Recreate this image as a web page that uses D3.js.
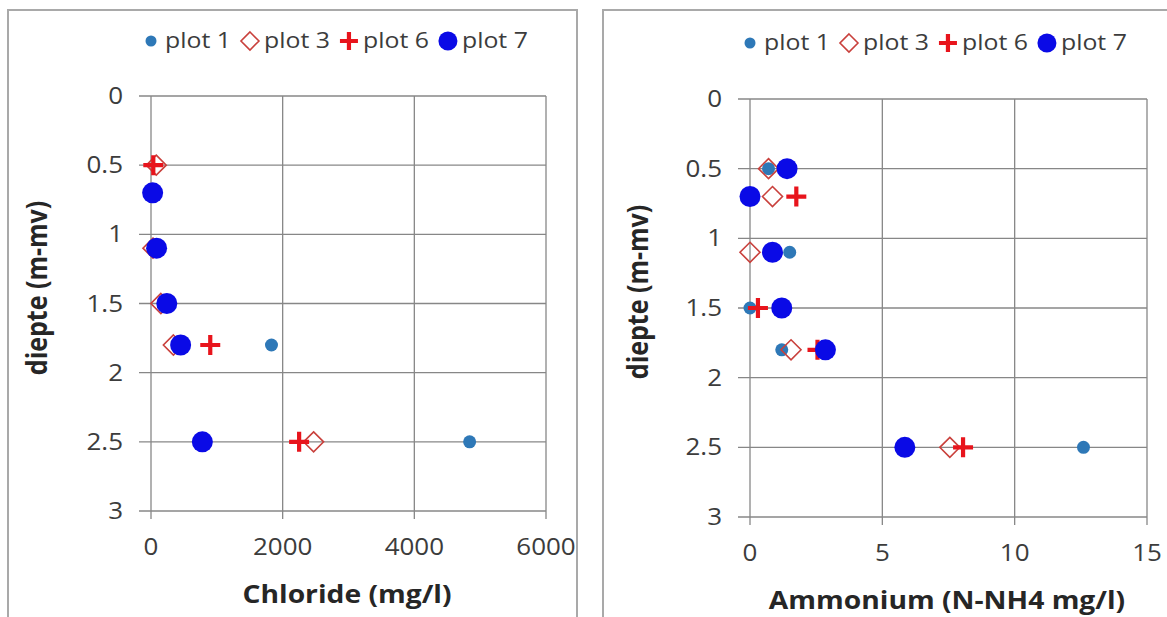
<!DOCTYPE html>
<html><head><meta charset="utf-8">
<script src="https://cdn.jsdelivr.net/npm/d3@7"></script>
<style>
html,body{margin:0;padding:0;background:#fff;}
svg{display:block;font-family:"Open Sans",Lato,sans-serif;}
</style></head>
<body>
<svg id="chart" width="1167" height="617"></svg>
<script>
// ---- data ----
const depths = [0.5, 0.7, 1.1, 1.5, 1.8, 2.5];
const seriesNames = ["plot 1", "plot 3", "plot 6", "plot 7"];
const chloridePlot1 = [null, null, null, null, 1830, 4840];
const chloridePlot3 = [80, null, 30, 150, 340, 2470];
const chloridePlot6 = [35, null, null, null, 900, 2250];
const chloridePlot7 = [null, 25, 85, 240, 450, 780];
const ammoniumPlot1 = [0.7, null, 1.5, 0.0, 1.2, 12.6];
const ammoniumPlot3 = [0.7, 0.85, 0.0, null, 1.55, 7.55];
const ammoniumPlot6 = [null, 1.75, null, 0.3, 2.55, 8.05];
const ammoniumPlot7 = [1.4, 0.0, 0.85, 1.2, 2.85, 5.85];
const depthTicks = [0, 0.5, 1, 1.5, 2, 2.5, 3];
const chlorideTicks = [0, 2000, 4000, 6000];
const ammoniumTicks = [0, 5, 10, 15];

const SX = 1.13; // horizontal text stretch seen in the reference
const svg = d3.select("#chart");
const styles = {
  "plot 1": {type: "dot", color: "#2e78b7", r: 6.5, lr: 5.5},
  "plot 3": {type: "diamond", color: "#c9403c", r: 10, lr: 9},
  "plot 6": {type: "plus", color: "#e8141c", r: 10, lr: 9},
  "plot 7": {type: "dot", color: "#0a0ae6", r: 10.5, lr: 9.5}
};

function drawMarker(g, name, x, y, legend) {
  const s = styles[name];
  const r = legend ? s.lr : s.r;
  if (s.type === "dot") {
    g.append("circle").attr("cx", x).attr("cy", y).attr("r", r).attr("fill", s.color);
  } else if (s.type === "diamond") {
    g.append("path").attr("d", `M${x},${y - r}L${x + r},${y}L${x},${y + r}L${x - r},${y}Z`)
      .attr("fill", "none").attr("stroke", s.color).attr("stroke-width", 1.6);
  } else {
    g.append("path").attr("d", `M${x - r},${y}H${x + r}M${x},${y - r}V${y + r}`)
      .attr("stroke", s.color).attr("stroke-width", 4.2).attr("fill", "none");
  }
}

function stretchedText(g, x, y, extra) {
  return g.append("text").attr("transform", `translate(${x},${y}) scale(${SX},1)${extra || ""}`);
}

function panel(cfg) {
  const g = svg.append("g");
  g.append("rect").attr("x", cfg.box[0]).attr("y", cfg.box[1]).attr("width", cfg.box[2]).attr("height", cfg.box[3])
    .attr("fill", "#fff").attr("stroke", "#a9a9a9").attr("stroke-width", 2);
  const x = d3.scaleLinear().domain(cfg.xDomain).range([cfg.left, cfg.right]);
  const y = d3.scaleLinear().domain([0, 3]).range([cfg.top, cfg.bottom]);

  // gridlines
  g.append("g").selectAll("line").data(depthTicks).join("line")
    .attr("x1", cfg.left - 12).attr("x2", cfg.right).attr("y1", d => y(d)).attr("y2", d => y(d))
    .attr("stroke", "#878787").attr("stroke-width", 1.3);
  g.append("g").selectAll("line").data(cfg.xTicks).join("line")
    .attr("y1", cfg.top).attr("y2", cfg.bottom + 8).attr("x1", d => x(d)).attr("x2", d => x(d))
    .attr("stroke", "#878787").attr("stroke-width", 1.3);

  // tick labels
  depthTicks.forEach(d => {
    stretchedText(g, cfg.left - 28, y(d)).attr("dy", "0.35em")
      .attr("text-anchor", "end").attr("font-size", 23).attr("fill", "#3c3c3c").text(d);
  });
  cfg.xTicks.forEach(d => {
    stretchedText(g, x(d), cfg.bottom + 36).attr("dy", "0.35em")
      .attr("text-anchor", "middle").attr("font-size", 23).attr("fill", "#3c3c3c").text(d);
  });

  // titles
  stretchedText(g, cfg.yTitleX, cfg.yTitleY, " rotate(-90)")
    .attr("text-anchor", "middle").attr("dy", "0.35em").attr("font-size", 25).attr("font-weight", "bold")
    .attr("fill", "#262626").text("diepte (m-mv)");
  stretchedText(g, cfg.xTitleX, cfg.xTitleY).attr("dy", "0.35em")
    .attr("text-anchor", "middle").attr("font-size", 25).attr("font-weight", "bold")
    .attr("fill", "#262626").text(cfg.xTitle);

  // points
  const pg = g.append("g");
  seriesNames.forEach((name, i) => {
    cfg.values[i].forEach((v, j) => {
      if (v === null) return;
      drawMarker(pg, name, x(v), y(depths[j]), false);
    });
  });

  // legend
  const lg = g.append("g");
  let cx = cfg.legendX;
  seriesNames.forEach(name => {
    drawMarker(lg, name, cx, cfg.legendY, true);
    const t = stretchedText(lg, cx + 14, cfg.legendY).attr("dy", "0.32em")
      .attr("font-size", 22).attr("fill", "#3c3c3c").text(name);
    cx = cx + 14 + t.node().getComputedTextLength() * SX + 19;
  });
}

panel({
  box: [8, 10, 569, 640], left: 151, right: 546, top: 96, bottom: 511,
  xDomain: [0, 6000], xTicks: chlorideTicks,
  values: [chloridePlot1, chloridePlot3, chloridePlot6, chloridePlot7],
  yTitleX: 37, yTitleY: 288, xTitleX: 347, xTitleY: 594, xTitle: "Chloride (mg/l)",
  legendX: 151, legendY: 41
});
panel({
  box: [603, 10, 600, 640], left: 750, right: 1147, top: 99, bottom: 517,
  xDomain: [0, 15], xTicks: ammoniumTicks,
  values: [ammoniumPlot1, ammoniumPlot3, ammoniumPlot6, ammoniumPlot7],
  yTitleX: 638, yTitleY: 292, xTitleX: 947, xTitleY: 600, xTitle: "Ammonium (N-NH4 mg/l)",
  legendX: 750, legendY: 43
});
</script>
</body></html>
